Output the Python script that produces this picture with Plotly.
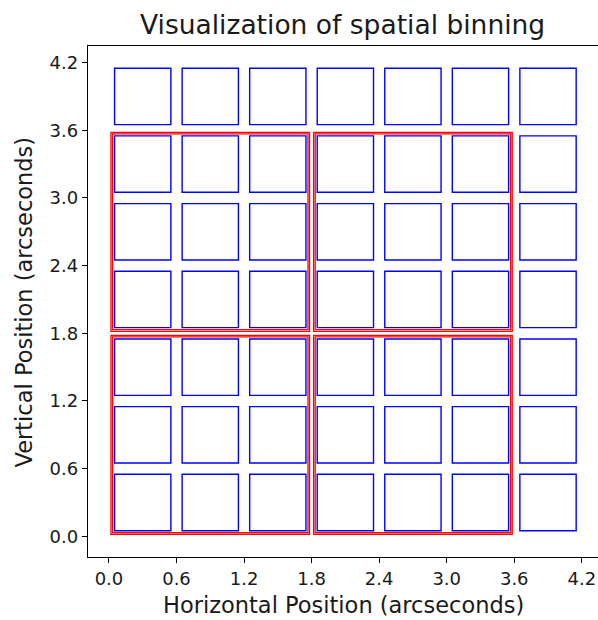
import plotly.graph_objects as go

# ---- data (arcseconds) ----
pixel_x = [0.0, 0.6, 1.2, 1.8, 2.4, 3.0, 3.6]   # lower-left corner of each spaxel column
pixel_y = [0.0, 0.6, 1.2, 1.8, 2.4, 3.0, 3.6]   # lower-left corner of each spaxel row
pixel_size = 0.6
bin_x_edges = [0.0, 1.8, 3.6]
bin_y_edges = [0.0, 1.8, 3.6]
tick_vals = [0.0, 0.6, 1.2, 1.8, 2.4, 3.0, 3.6, 4.2]
tick_text = ["0.0", "0.6", "1.2", "1.8", "2.4", "3.0", "3.6", "4.2"]

title_text = "Visualization of spatial binning"
xlabel = "Horizontal Position (arcseconds)"
ylabel = "Vertical Position (arcseconds)"

# ---- styles ----
FONT = "DejaVu Sans"
pix_inset = 0.05
bin_insets = [0.018, 0.032]

fig = go.Figure()
fig.add_trace(go.Scatter(x=[], y=[], showlegend=False))

shapes = []
for px in pixel_x:
    for py in pixel_y:
        shapes.append(dict(type="rect", xref="x", yref="y",
                           x0=px + pix_inset, x1=px + pixel_size - pix_inset,
                           y0=py + pix_inset, y1=py + pixel_size - pix_inset,
                           line=dict(color="blue", width=1.4),
                           fillcolor="rgba(0,0,0,0)"))
for i in range(len(bin_x_edges) - 1):
    for j in range(len(bin_y_edges) - 1):
        for ins in bin_insets:
            shapes.append(dict(type="rect", xref="x", yref="y",
                               x0=bin_x_edges[i] + ins, x1=bin_x_edges[i + 1] - ins,
                               y0=bin_y_edges[j] + ins, y1=bin_y_edges[j + 1] - ins,
                               line=dict(color="red", width=1.3),
                               fillcolor="rgba(0,0,0,0)"))

axis_common = dict(showgrid=False, zeroline=False, showline=True, linecolor="black",
                   linewidth=1.3, mirror=True, ticks="outside", ticklen=5, tickwidth=1.3,
                   tickcolor="black", tickvals=tick_vals, ticktext=tick_text,
                   tickfont=dict(family=FONT, size=18, color="#1a1a1a"))

fig.update_layout(
    width=598, height=620,
    margin=dict(l=88, r=0, t=46, b=63),
    paper_bgcolor="white", plot_bgcolor="white",
    shapes=shapes,
    xaxis=dict(range=[-0.186, 4.344], **axis_common),
    yaxis=dict(range=[-0.183, 4.347], **axis_common),
    annotations=[
        dict(text=title_text, xref="paper", yref="paper", x=0.499, y=1.0425,
             xanchor="center", yanchor="middle", showarrow=False,
             font=dict(family=FONT, size=26.5, color="#1a1a1a")),
        dict(text=xlabel, xref="paper", yref="paper", x=0.5, y=-0.0945,
             xanchor="center", yanchor="middle", showarrow=False,
             font=dict(family=FONT, size=22.5, color="#1a1a1a")),
        dict(text=ylabel, xref="paper", yref="paper", x=-0.1255, y=0.5,
             xanchor="center", yanchor="middle", showarrow=False, textangle=-90,
             font=dict(family=FONT, size=22.5, color="#1a1a1a")),
    ],
)

fig.write_html("out.html")
